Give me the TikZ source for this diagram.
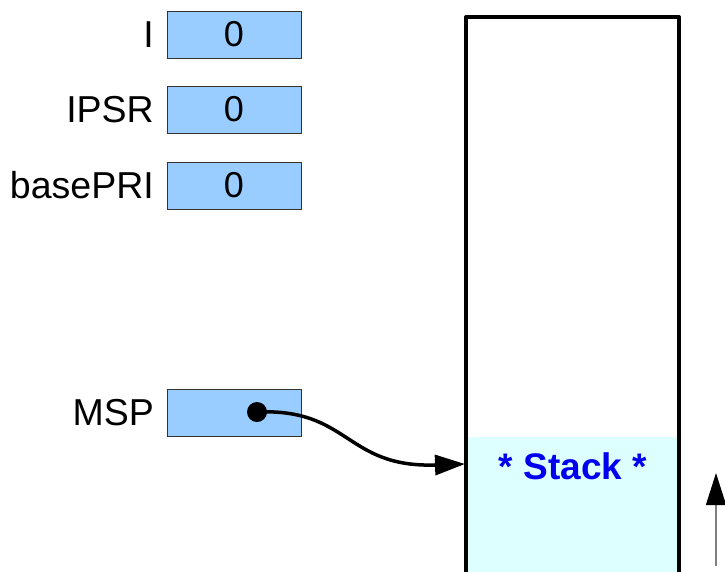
\documentclass[tikz,border=0pt]{standalone}
\usepackage{fontspec}
\setmainfont{Liberation Sans}
\usetikzlibrary{arrows.meta}
\definecolor{regfill}{HTML}{99CCFF}
\definecolor{regline}{HTML}{333333}
\definecolor{stackfill}{HTML}{DDFFFF}
\definecolor{stacktext}{HTML}{0000EE}
\tikzset{
  reg/.style={draw=regline, line width=1pt, fill=regfill, minimum width=134pt,
    minimum height=47pt, inner sep=0pt, font=\fontsize{36}{36}\selectfont},
  reglabel/.style={anchor=east, inner sep=0pt, font=\fontsize{37.5}{37.5}\selectfont},
}
\begin{document}
\begin{tikzpicture}[x=1pt,y=-1pt]
\useasboundingbox (0,0) rectangle (725,571);
\begin{scope}
\clip (0,0) rectangle (725,571);
% stack body: filled lower part, then the open-bottom frame
\node (stack) [fill=stackfill, inner sep=0pt, minimum width=213pt, minimum height=150pt,
  anchor=north west] at (466,437) {};
\node[font=\fontsize{37}{37}\selectfont\bfseries, text=stacktext] (stacklbl) at (573,466) {* Stack *};
\draw[line width=4pt, line join=round] (466,600) -- (466,17) -- (679,17) -- (679,600);
\end{scope}

% registers
\node[reg] (ireg) at (234,34.5) {0};
\node[reglabel] (ilbl) at (154,34.5) {I};
\node[reg] (ipsr) at (234,109.5) {0};
\node[reglabel] (ipsrlbl) at (154,109.5) {IPSR};
\node[reg] (bpri) at (234,185.5) {0};
\node[reglabel] (bprilbl) at (154,185.5) {basePRI};
\node[reg] (msp) at (234,412.5) {};
\node[reglabel] (msplbl) at (154,412.5) {MSP};

% stack pointer
\coordinate (sp) at (257,412);
\coordinate (sptarget) at (465,464);
\fill (sp) circle (10pt);
\draw[line width=3.5pt, -{Triangle[length=30pt,width=20pt]}]
  (sp) .. controls (350,408) and (345,468) .. (sptarget);

% growth direction
\coordinate (gbot) at (716,566);
\coordinate (gtop) at (716,473);
\draw[draw=gray, line width=1.5pt, -{Triangle[length=32pt,width=20pt,color=black,fill=black]}] (gbot) -- (gtop);
\end{tikzpicture}
\end{document}
